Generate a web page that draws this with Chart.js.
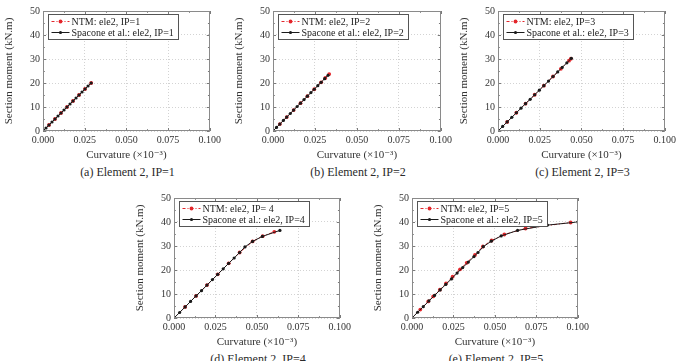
<!DOCTYPE html>
<html><head><meta charset="utf-8">
<script src="https://cdn.jsdelivr.net/npm/chart.js@4.4.1/dist/chart.umd.min.js"></script>
<style>
body{margin:0;background:#fff;}
#fig{position:relative;width:682px;height:361px;overflow:hidden;background:#fff;font-family:"Liberation Serif","DejaVu Serif",serif;}
#fig canvas{position:absolute;}
.cap{position:absolute;font-size:12px;color:#2a2a2a;white-space:nowrap;transform:translate(-50%,-50%);font-family:"Liberation Serif","DejaVu Serif",serif;}
</style></head><body><div id="fig"></div>
<script>
// ---- tick labels / text ----
const xTickValues = [0, 0.025, 0.05, 0.075, 0.1];
const yTickValues = [0, 10, 20, 30, 40, 50];
const xTitle = 'Curvature (×10⁻³)';
const yTitle = 'Section moment (kN.m)';
const captions = ['(a) Element 2, IP=1', '(b) Element 2, IP=2', '(c) Element 2, IP=3', '(d) Element 2, IP=4', '(e) Element 2, IP=5'];
const ntmLabels = ['NTM: ele2, IP=1', 'NTM: ele2, IP=2', 'NTM: ele2, IP=3', 'NTM: ele2, IP= 4', 'NTM: ele2, IP=5'];
const spaLabels = ['Spacone et al.: ele2, IP=1', 'Spacone et al.: ele2, IP=2', 'Spacone et al.: ele2, IP=3', 'Spacone et al.: ele2, IP=4', 'Spacone et al.: ele2, IP=5'];

// ---- data: curvature (x) and section moment (y) ----
const spa1X = [0,0.0018,0.0036,0.0054,0.0072,0.0090,0.0108,0.0126,0.0144,0.0162,0.0180,0.0198,0.0216,0.0234,0.0252,0.0270,0.0289];
const spa1Y = [0,1.25,2.5,3.75,5.0,6.25,7.5,8.75,10.0,11.25,12.5,13.75,15.0,16.25,17.5,18.75,20.0];
const ntm1X = [0,0.0036,0.0072,0.0108,0.0144,0.0180,0.0216,0.0252,0.0289];
const ntm1Y = [0,2.5,5.0,7.5,10.0,12.5,15.0,17.5,20.0];

const spa2X = [0,0.0021,0.0041,0.0062,0.0082,0.0103,0.0123,0.0144,0.0164,0.0185,0.0205,0.0226,0.0246,0.0267,0.0287,0.0308,0.0328];
const spa2Y = [0,1.5,2.9,4.4,5.8,7.3,8.7,10.2,11.6,13.1,14.5,16.0,17.4,18.9,20.3,21.8,23.2];
const ntm2X = [0,0.0041,0.0082,0.0123,0.0164,0.0205,0.0246,0.0287,0.0312,0.0335];
const ntm2Y = [0,2.9,5.8,8.7,11.6,14.5,17.4,20.3,22.1,23.7];

const spa3X = [0,0.0028,0.0055,0.0083,0.0110,0.0138,0.0165,0.0193,0.0220,0.0248,0.0275,0.0303,0.0330,0.0358,0.0385,0.0413,0.0440];
const spa3Y = [0,1.9,3.8,5.7,7.6,9.5,11.4,13.2,15.1,17.0,18.9,20.8,22.7,24.6,26.5,28.4,30.3];
const ntm3X = [0,0.0055,0.0110,0.0165,0.0220,0.0275,0.0330,0.0377,0.0426,0.0437];
const ntm3Y = [0,3.8,7.6,11.4,15.1,18.9,22.7,25.9,29.3,30.1];

const spa4X = [0,0.0034,0.0067,0.0100,0.0133,0.0166,0.0199,0.0232,0.0264,0.0297,0.0330,0.0363,0.0396,0.0428,0.0474,0.0533,0.0639];
const spa4Y = [0,2.3,4.6,6.9,9.2,11.4,13.7,16.0,18.2,20.5,22.8,25.0,27.3,29.6,31.9,34.0,36.5];
const ntm4X = [0,0.0067,0.0133,0.0199,0.0264,0.0330,0.0396,0.0474,0.0535,0.0605];
const ntm4Y = [0,4.6,9.2,13.7,18.2,22.8,27.3,31.9,34.1,35.9];

const spa5X = [0,0.0034,0.0068,0.0102,0.0136,0.0170,0.0204,0.0238,0.0272,0.0306,0.0340,0.0374,0.0398,0.0430,0.0478,0.0538,0.0637,0.0817,0.1000];
const spa5Y = [0,2.4,4.7,7.1,9.4,11.7,14.0,16.3,18.7,21.0,23.3,25.6,27.3,29.7,32.0,34.2,36.5,38.7,40.0];
const ntm5X = [0,0.0050,0.0098,0.0128,0.0168,0.0205,0.0245,0.0290,0.0330,0.0380,0.0428,0.0480,0.0557,0.0685,0.0957];
const ntm5Y = [0,3.5,6.9,9.0,11.8,14.4,17.2,20.3,23.0,26.3,29.8,32.3,34.8,37.3,39.8];

// ---- layout (plot-area boxes) ----
const panels = [
  {L:43,  T:10,  R:212, B:131, spaX:spa1X, spaY:spa1Y, ntmX:ntm1X, ntmY:ntm1Y},
  {L:273, T:10,  R:443, B:131, spaX:spa2X, spaY:spa2Y, ntmX:ntm2X, ntmY:ntm2Y},
  {L:498, T:10,  R:667, B:131, spaX:spa3X, spaY:spa3Y, ntmX:ntm3X, ntmY:ntm3Y},
  {L:174, T:197, R:342, B:318, spaX:spa4X, spaY:spa4Y, ntmX:ntm4X, ntmY:ntm4Y},
  {L:412, T:197, R:580, B:318, spaX:spa5X, spaY:spa5Y, ntmX:ntm5X, ntmY:ntm5Y}
];

const FONT = '"Liberation Serif","DejaVu Serif",serif';
const RED = '#e3262b';
const BLK = '#1a1a1a';
const YAXW = 40, XAXH = 31, PADT = 8, PADR = 12;

function pts(xs, ys){ return xs.map((x,i)=>({x:x, y:ys[i]})); }

function framePlugin(idx){
  return {
    id:'frame'+idx,
    afterDraw(chart){
      const ctx = chart.ctx, a = chart.chartArea, xs = chart.scales.x, ys = chart.scales.y;
      ctx.save();
      ctx.strokeStyle = '#7a7a7a'; ctx.lineWidth = 1;
      ctx.beginPath();
      for (let k = 0; k <= 8; k++) {
        const v = k * 0.0125;
        const px = Math.round(xs.getPixelForValue(v)) + 0.5;
        const len = (k % 2 === 0) ? 3 : 1.8;
        ctx.moveTo(px, a.bottom); ctx.lineTo(px, a.bottom - len);
        ctx.moveTo(px, a.top); ctx.lineTo(px, a.top + len);
      }
      for (let v = 0; v <= 50; v += 5) {
        const py = Math.round(ys.getPixelForValue(v)) + 0.5;
        const len = (v % 10 === 0) ? 3 : 1.8;
        ctx.moveTo(a.left, py); ctx.lineTo(a.left + len, py);
        ctx.moveTo(a.right, py); ctx.lineTo(a.right - len, py);
      }
      ctx.stroke();
      ctx.strokeStyle = '#8a8a8a';
      ctx.strokeRect(Math.round(a.left)+0.5, Math.round(a.top)+0.5, Math.round(a.right-a.left)-1, Math.round(a.bottom-a.top)-1);
      // legend box
      ctx.font = '10px ' + FONT;
      const t1 = ntmLabels[idx], t2 = spaLabels[idx];
      const tw = Math.max(ctx.measureText(t1).width, ctx.measureText(t2).width);
      const bx = Math.round(a.left) + 5.5, by = Math.round(a.top) + 3.5;
      const bw = Math.round(24 + tw + 4), bh = 25;
      ctx.fillStyle = '#fff';
      ctx.fillRect(bx, by, bw, bh);
      ctx.strokeStyle = '#555'; ctx.lineWidth = 1;
      ctx.strokeRect(bx, by, bw, bh);
      const r1 = by + 7, r2 = by + 18;
      ctx.strokeStyle = RED; ctx.lineWidth = 1;
      ctx.setLineDash([3,2,1,2]);
      ctx.beginPath(); ctx.moveTo(bx+3, r1); ctx.lineTo(bx+21, r1); ctx.stroke();
      ctx.setLineDash([]);
      ctx.fillStyle = RED; ctx.beginPath(); ctx.arc(bx+12, r1, 1.9, 0, Math.PI*2); ctx.fill();
      ctx.strokeStyle = BLK;
      ctx.beginPath(); ctx.moveTo(bx+3, r2); ctx.lineTo(bx+21, r2); ctx.stroke();
      ctx.fillStyle = BLK; ctx.beginPath(); ctx.arc(bx+12, r2, 1.6, 0, Math.PI*2); ctx.fill();
      ctx.fillStyle = '#222'; ctx.textBaseline = 'middle'; ctx.textAlign = 'left';
      ctx.fillText(t1, bx+23, r1+0.5);
      ctx.fillText(t2, bx+23, r2+0.5);
      ctx.restore();
    }
  };
}

const fig = document.getElementById('fig');
panels.forEach((p, i) => {
  const W = p.R - p.L, H = p.B - p.T;
  const cv = document.createElement('canvas');
  const cw = YAXW + W + PADR, ch = PADT + H + XAXH;
  cv.width = cw; cv.height = ch;
  cv.style.width = cw + 'px'; cv.style.height = ch + 'px';
  cv.style.left = (p.L - YAXW) + 'px'; cv.style.top = (p.T - PADT) + 'px';
  fig.appendChild(cv);

  new Chart(cv.getContext('2d'), {
    type: 'scatter',
    data: {
      datasets: [
        { label: spaLabels[i], data: pts(p.spaX, p.spaY), showLine: true, order: 0,
          borderColor: BLK, backgroundColor: BLK, borderWidth: 1,
          pointRadius: 1.6, pointBorderWidth: 0, pointBackgroundColor: BLK },
        { label: ntmLabels[i], data: pts(p.ntmX, p.ntmY), showLine: true, order: 1,
          borderColor: RED, backgroundColor: RED, borderWidth: 1, borderDash: [3,2,1,2],
          pointRadius: 1.9, pointBorderWidth: 0, pointBackgroundColor: RED }
      ]
    },
    options: {
      responsive: false, animation: false, devicePixelRatio: 1,
      layout: { padding: { top: PADT, right: PADR, left: 0, bottom: 0 } },
      plugins: { legend: { display: false }, tooltip: { enabled: false } },
      scales: {
        x: {
          type: 'linear', min: 0, max: 0.1,
          afterFit: s => { s.height = XAXH; },
          afterBuildTicks: s => { s.ticks = xTickValues.map(v => ({value: v})); },
          ticks: { padding: 3, color: '#333', font: { family: FONT, size: 10 }, maxRotation: 0,
                   callback: v => Number(v).toFixed(3) },
          grid: { drawTicks: false, color: '#c8c8c8', lineWidth: 0.8 },
          border: { display: false, dash: [1,2] },
          title: { display: true, text: xTitle, color: '#333', padding: 0, font: { family: FONT, size: 11 } }
        },
        y: {
          type: 'linear', min: 0, max: 50,
          afterFit: s => { s.width = YAXW; },
          afterBuildTicks: s => { s.ticks = yTickValues.map(v => ({value: v})); },
          ticks: { padding: 3, color: '#333', font: { family: FONT, size: 10 } },
          grid: { drawTicks: false, color: '#c8c8c8', lineWidth: 0.8 },
          border: { display: false, dash: [1,2] },
          title: { display: true, text: yTitle, color: '#333', padding: 0, font: { family: FONT, size: 11 } }
        }
      }
    },
    plugins: [framePlugin(i)]
  });

  const cap = document.createElement('div');
  cap.className = 'cap';
  cap.textContent = captions[i];
  cap.style.left = ((p.L + p.R) / 2) + 'px';
  cap.style.top = (p.B + 41) + 'px';
  fig.appendChild(cap);
});
</script>
</body></html>
